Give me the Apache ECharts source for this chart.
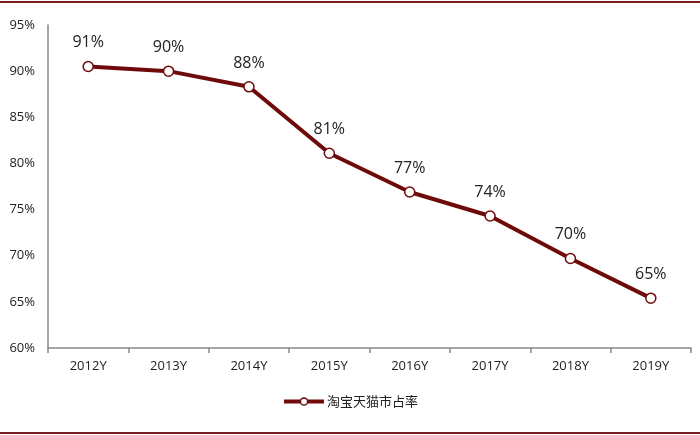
<!DOCTYPE html>
<html>
<head>
<meta charset="utf-8">
<script src="https://cdn.jsdelivr.net/npm/echarts@6/dist/echarts.min.js"></script>
<style>html,body{margin:0;padding:0;background:#fff;}#c{width:700px;height:435px;}</style>
</head>
<body>
<div id="c"></div>
<script>
var categories = ['2012Y','2013Y','2014Y','2015Y','2016Y','2017Y','2018Y','2019Y'];
var shareValues = [90.5, 90.0, 88.3, 81.1, 76.9, 74.3, 69.7, 65.4];
var seriesName = '淘宝天猫市占率';

var chart = echarts.init(document.getElementById('c'));
var dark = '#6e0a0a';
chart.setOption({
  animation: false,
  textStyle: { fontFamily: '"Open Sans", "Noto Sans CJK SC", sans-serif' },
  grid: { left: 48, right: 9, top: 25, bottom: 87 },
  graphic: [
    { type: 'rect', shape: { x: 0, y: 1, width: 700, height: 2 }, style: { fill: '#7a1f1f' } },
    { type: 'rect', shape: { x: 0, y: 432, width: 700, height: 2 }, style: { fill: '#7a1f1f' } }
  ],
  legend: {
    bottom: 22,
    left: 'center',
    itemWidth: 40,
    itemHeight: 9,
    itemGap: 4,
    lineStyle: { width: 4, color: dark },
    itemStyle: { color: '#fff', borderColor: dark, borderWidth: 1.5 },
    textStyle: { fontSize: 13, color: '#222', fontFamily: '"Noto Sans CJK SC", sans-serif', padding: [0, 0, 0, -2] },
    data: [seriesName]
  },
  xAxis: {
    type: 'category',
    data: categories,
    boundaryGap: true,
    axisLine: { lineStyle: { color: '#888', width: 1.5 } },
    axisTick: { show: true, length: 5, lineStyle: { color: '#888', width: 1.5 } },
    axisLabel: { color: '#222', fontSize: 13, margin: 12 },
    splitLine: { show: false }
  },
  yAxis: {
    type: 'value',
    min: 60, max: 95, interval: 5,
    axisLine: { show: true, lineStyle: { color: '#888', width: 1.5 } },
    axisTick: { show: false },
    splitLine: { show: false },
    axisLabel: { color: '#222', fontSize: 13, margin: 13, formatter: '{value}%' }
  },
  series: [{
    name: seriesName,
    type: 'line',
    data: shareValues,
    symbol: 'circle',
    symbolSize: 10,
    lineStyle: { color: dark, width: 4 },
    itemStyle: { color: '#fff', borderColor: dark, borderWidth: 1.5 },
    label: {
      show: true, position: 'top', distance: 10,
      color: '#222', fontSize: 16,
      formatter: function (p) { return Math.round(p.value) + '%'; }
    }
  }]
});
</script>
</body>
</html>
